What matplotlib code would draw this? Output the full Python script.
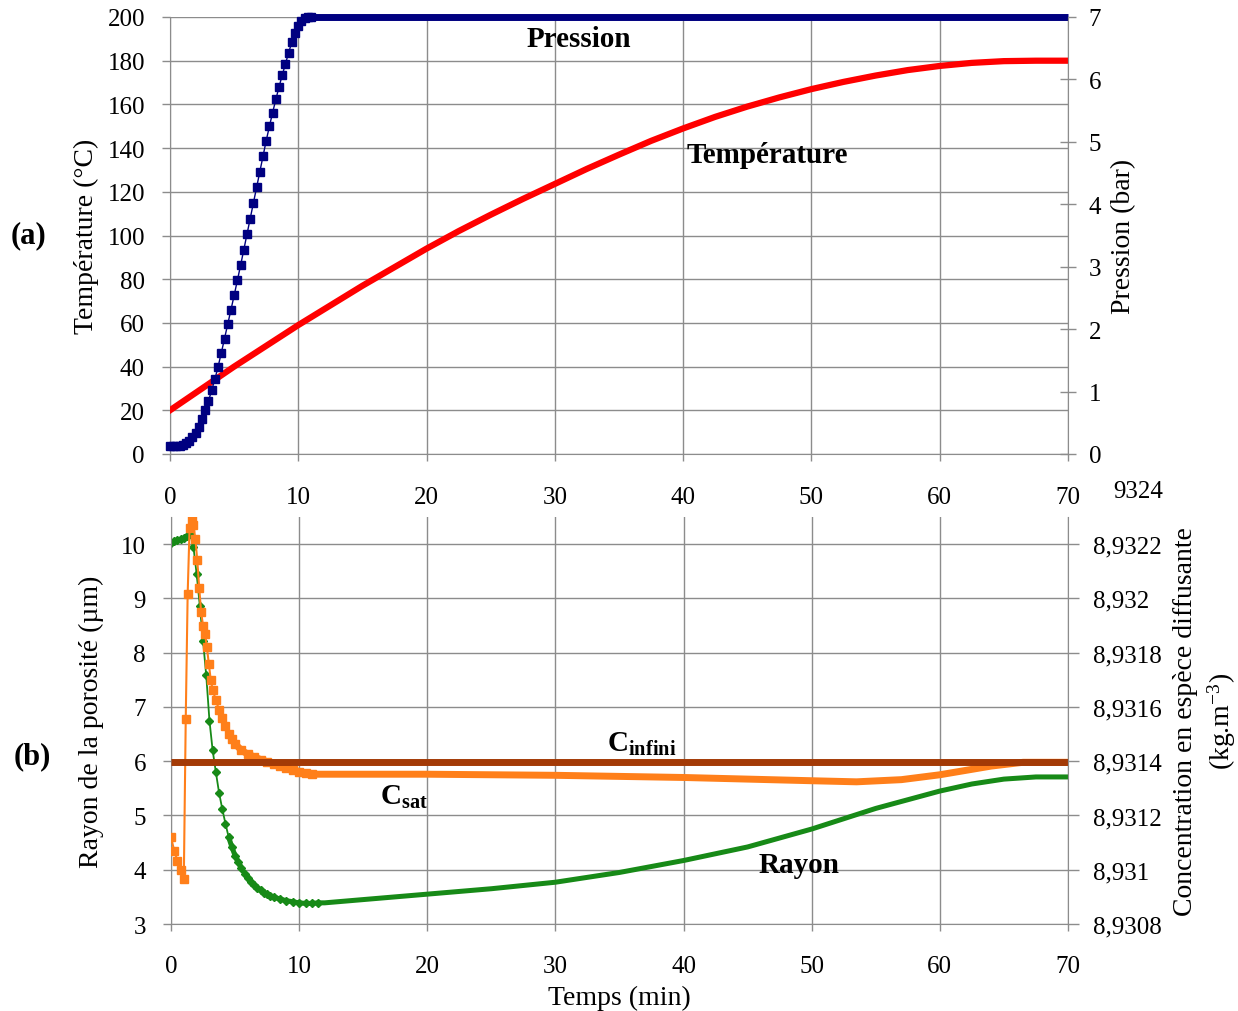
import numpy as np
import matplotlib.pyplot as plt

plt.rcParams['font.family'] = 'Liberation Serif'
plt.rcParams['mathtext.fontset'] = 'custom'
plt.rcParams['mathtext.rm'] = 'Liberation Serif'
plt.rcParams['mathtext.it'] = 'Liberation Serif:italic'
plt.rcParams['mathtext.bf'] = 'Liberation Serif:bold'

# ---- (a) température / pression ----
temps_T = [0, 2.5, 5, 7.5, 10, 12.5, 15, 17.5, 20, 22.5, 25, 27.5, 30, 32.5, 35,
           37.5, 40, 42.5, 45, 47.5, 50, 52.5, 55, 57.5, 60, 62.5, 65, 67.5, 70]
temperature = [20, 30, 40, 49.5, 59, 68, 77, 85.5, 94, 102, 109.5, 116.7, 123.6, 130.5, 137,
               143.3, 149, 154.3, 159, 163.2, 167, 170.3, 173.2, 175.7, 177.6, 179, 179.8, 180, 180]

# montée en pression (points visibles)
temps_p_montee = [0, 0.25, 0.5, 0.75, 1.0, 1.25, 1.5, 1.75, 2.0, 2.25, 2.5, 2.75, 3.0, 3.25,
                  3.5, 3.75, 4.0, 4.25, 4.5, 4.75, 5.0, 5.25, 5.5, 5.75, 6.0, 6.25, 6.5, 6.75,
                  7.0, 7.25, 7.5, 7.75, 8.0, 8.25, 8.5, 8.75, 9.0, 9.25, 9.5, 9.75, 10.0,
                  10.25, 10.5, 10.75, 11.0]
pression_montee = [0.13, 0.13, 0.13, 0.13, 0.14, 0.17, 0.21, 0.27, 0.34, 0.44, 0.56, 0.7, 0.85, 1.02,
                   1.2, 1.4, 1.62, 1.85, 2.08, 2.31, 2.54, 2.78, 3.02, 3.27, 3.52, 3.77, 4.02, 4.27,
                   4.52, 4.77, 5.02, 5.25, 5.47, 5.68, 5.88, 6.07, 6.25, 6.43, 6.6, 6.75, 6.86,
                   6.94, 6.98, 7.0, 7.0]
# palier
temps_p_palier = [10.75, 20, 30, 40, 50, 60, 70]
pression_palier = [7.0, 7.0, 7.0, 7.0, 7.0, 7.0, 7.0]

# ---- (b) rayon / concentrations ----
temps_r_debut = [0, 0.25, 0.5, 0.75, 1.0, 1.25, 1.5, 1.75, 2.0, 2.25, 2.5, 2.75, 3.0, 3.25,
                 3.5, 3.75, 4.0, 4.25, 4.5, 4.75, 5.0, 5.25, 5.5, 5.75, 6.0, 6.25, 6.5, 6.75,
                 7.0, 7.25, 7.5, 7.75, 8.0, 8.5, 9.0, 9.5, 10.0, 10.5, 11.0, 11.5]
rayon_debut = [10.02, 10.05, 10.07, 10.09, 10.12, 10.15, 10.18, 9.95, 9.45, 8.86, 8.22, 7.58, 6.75, 6.2,
               5.8, 5.42, 5.12, 4.85, 4.6, 4.42, 4.26, 4.14, 4.03, 3.93, 3.84, 3.77, 3.71, 3.66,
               3.62, 3.58, 3.55, 3.52, 3.5, 3.46, 3.43, 3.41, 3.39, 3.38, 3.38, 3.39]
temps_r_suite = [12, 15, 20, 25, 30, 35, 40, 45, 50, 55, 60, 62.5, 65, 67.5, 70]
rayon_suite = [3.39, 3.45, 3.55, 3.65, 3.77, 3.95, 4.17, 4.42, 4.75, 5.13, 5.45, 5.58, 5.67, 5.71, 5.71]

temps_csat_debut = [0, 0.25, 0.5, 0.75, 1.0, 1.15, 1.3, 1.45, 1.6, 1.75, 1.9, 2.05, 2.2, 2.35,
                    2.5, 2.65, 2.8, 2.95, 3.1, 3.25, 3.5, 3.75, 4.0, 4.25, 4.5, 4.75, 5.0, 5.5,
                    6.0, 6.5, 7.0, 7.5, 8.0, 8.5, 9.0, 9.5, 10.0, 10.5, 11.0]
csat_debut = [8.93112, 8.93107, 8.931034, 8.9310, 8.930966, 8.931556, 8.932016, 8.93226, 8.93229,
              8.93227, 8.93222, 8.93214, 8.93204, 8.93195, 8.9319, 8.93187, 8.93182, 8.93176,
              8.9317, 8.931664, 8.931624, 8.93159, 8.93156, 8.93153, 8.9315, 8.93148, 8.931464,
              8.93144, 8.931426, 8.931416, 8.931406, 8.931398, 8.93139, 8.931382, 8.931376,
              8.931368, 8.931362, 8.931356, 8.931352]
temps_csat_suite = [12, 20, 30, 40, 45, 50, 53.5, 57, 60, 62, 64, 66.5, 70]
csat_suite = [8.931352, 8.931352, 8.931348, 8.93134, 8.931334, 8.931328, 8.931324, 8.931332,
              8.93135, 8.931366, 8.931382, 8.931396, 8.931396]

temps_cinf = [0, 70]
cinfini = [8.931396, 8.931396]

conc_ticks = [8.9308, 8.931, 8.9312, 8.9314, 8.9316, 8.9318, 8.932, 8.9322]
conc_labels = ['8,9308', '8,931', '8,9312', '8,9314', '8,9316', '8,9318', '8,932', '8,9322']

GRIS = '#8c8c8c'
FS_TICK = 18
FS_LAB = 20
FS_ANN = 21

fig = plt.figure(figsize=(12.38, 10.12), dpi=100)
ax1 = fig.add_axes([170/1238, 1-455/1012, 898/1238, 437/1012])
ax3 = fig.add_axes([171/1238, 1-925/1012, 897/1238, 407/1012])


def habiller(ax, droite):
    for s in ['top', 'right', 'left', 'bottom']:
        ax.spines[s].set_color(GRIS)
    ax.spines['top'].set_visible(False)
    if droite:
        for s in ['left', 'bottom']:
            ax.spines[s].set_visible(False)
    else:
        ax.spines['right'].set_visible(False)
    ax.tick_params(colors=GRIS, labelcolor='black', labelsize=FS_TICK, width=1)


# ---------- (a) ----------
ax1.plot(temps_T, temperature, color='#ff0000', lw=4.5, zorder=3)
ax1.set_xlim(0, 70)
ax1.set_ylim(0, 200)
ax1.set_xticks(range(0, 71, 10))
ax1.set_yticks(range(0, 201, 20))
ax1.grid(True, color=GRIS, lw=1)
ax1.set_axisbelow(True)
habiller(ax1, False)
ax1.tick_params(axis='y', length=6, pad=12)
ax1.tick_params(axis='x', length=5, pad=18)
ax1.set_ylabel('Température (°C)', fontsize=FS_LAB, labelpad=6)

ax2 = ax1.twinx()
ax2.plot(temps_p_palier, pression_palier, color='#000080', lw=5, solid_capstyle='butt',
         clip_on=False)
ax2.plot(temps_p_montee, pression_montee, color='#000080', lw=1, marker='s', ms=5.5,
         clip_on=False)
ax2.set_ylim(0, 7)
ax2.set_yticks(range(0, 8))
habiller(ax2, True)
ax2.tick_params(axis='y', direction='inout', length=12, pad=9)
ax2.set_ylabel('Pression (bar)', fontsize=FS_LAB, labelpad=7)

ax1.text(31.9, 190, 'Pression', fontsize=FS_ANN, fontweight='bold', ha='center', va='center')
ax1.text(46.6, 137, 'Température', fontsize=FS_ANN, fontweight='bold', ha='center', va='center')

# ---------- (b) ----------
ax3.plot(temps_r_debut[18:] + temps_r_suite, rayon_debut[18:] + rayon_suite,
         color='#178a17', lw=3.6, solid_capstyle='butt')
ax3.plot(temps_r_debut, rayon_debut, color='#178a17', lw=1.3, marker='D', ms=3.8)
ax3.set_xlim(0, 70)
ax3.set_ylim(3, 10.5)
ax3.set_xticks(range(0, 71, 10))
ax3.set_yticks(range(3, 11))
ax3.grid(True, color=GRIS, lw=1)
ax3.set_axisbelow(True)
habiller(ax3, False)
ax3.tick_params(axis='y', length=6, pad=12)
ax3.tick_params(axis='x', length=5, pad=17)
ax3.set_ylabel('Rayon de la porosité (µm)', fontsize=FS_LAB, labelpad=12)
ax3.set_xlabel('Temps (min)', fontsize=FS_LAB, labelpad=6)

ax4 = ax3.twinx()
ax4.plot(temps_csat_debut[25:] + temps_csat_suite, csat_debut[25:] + csat_suite,
         color='#ff7f1a', lw=5, solid_capstyle='butt')
ax4.plot(temps_csat_debut, csat_debut, color='#ff7f1a', lw=1.5, marker='s', ms=5.5)
ax4.plot(temps_cinf, cinfini, color='#a33a06', lw=5, solid_capstyle='butt')
ax4.set_ylim(8.9308, 8.9323)
ax4.set_yticks(conc_ticks)
ax4.set_yticklabels(conc_labels)
habiller(ax4, True)
ax4.tick_params(axis='y', length=8, pad=10)
ax4.set_ylabel('Concentration en espèce diffusante\n(kg.m$^{-3}$)', fontsize=FS_LAB,
               labelpad=8, linespacing=1.3)

ax3.text(34.0, 6.19, r'C$_{\mathbf{infini}}$', fontsize=FS_ANN, fontweight='bold',
         ha='left', va='baseline')
ax3.text(16.3, 5.21, r'C$_{\mathbf{sat}}$', fontsize=FS_ANN, fontweight='bold',
         ha='left', va='baseline')
ax3.text(49.0, 4.09, 'Rayon', fontsize=FS_ANN, fontweight='bold', ha='center', va='center')

fig.text(28/1238, 1-236/1012, '(a)', fontsize=22, fontweight='bold', ha='center', va='center')
fig.text(32/1238, 1-757/1012, '(b)', fontsize=22, fontweight='bold', ha='center', va='center')
fig.text(1163/1238, 1-492/1012, '9324', fontsize=FS_TICK, ha='right', va='center')

fig.savefig('out.png', dpi=100)
